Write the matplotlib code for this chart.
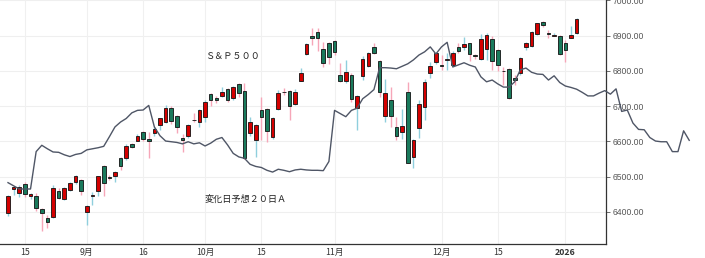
import matplotlib
matplotlib.use("Agg")
import matplotlib.pyplot as plt
import numpy as np

# ---- data (S&P500 daily, 2025-08-12 .. 2026-01-06) ----
opens = [6396, 6465, 6453, 6479, 6446, 6446, 6408, 6382, 6385, 6460,
         6436, 6462, 6484, 6491, 6401, 6446, 6458, 6531, 6500, 6502,
         6552, 6554, 6592, 6602, 6628, 6606, 6625, 6647, 6656, 6694,
         6672, 6609, 6616, 6662, 6656, 6669, 6734, 6724, 6729, 6748,
         6722, 6762, 6743, 6623, 6604, 6689, 6691, 6612, 6691, 6740,
         6743, 6706, 6772, 6847, 6899, 6911, 6861, 6880, 6885, 6789,
         6770, 6789, 6696, 6786, 6815, 6869, 6828, 6672, 6718, 6642,
         6628, 6740, 6557, 6637, 6697, 6795, 6825, 6816, 6832, 6817,
         6869, 6869, 6878, 6844, 6833, 6861, 6890, 6859, 6801, 6805,
         6779, 6793, 6867, 6871, 6905, 6938, 6906, 6900, 6899, 6878,
         6894, 6907]
highs = [6447, 6472, 6476, 6485, 6455, 6453, 6412, 6391, 6476, 6467,
         6472, 6486, 6504, 6494, 6419, 6457, 6503, 6532, 6504, 6516,
         6555, 6593, 6596, 6620, 6630, 6626, 6640, 6667, 6704, 6701,
         6675, 6620, 6650, 6680, 6692, 6716, 6738, 6730, 6754, 6752,
         6758, 6767, 6767, 6670, 6650, 6725, 6694, 6668, 6746, 6752,
         6746, 6750, 6808, 6878, 6921, 6921, 6883, 6882, 6888, 6822,
         6831, 6793, 6731, 6843, 6853, 6878, 6830, 6776, 6755, 6668,
         6691, 6769, 6606, 6718, 6776, 6825, 6852, 6845, 6850, 6856,
         6878, 6897, 6880, 6848, 6905, 6906, 6899, 6861, 6812, 6807,
         6789, 6840, 6882, 6913, 6937, 6942, 6916, 6908, 6901, 6888,
         6926, 6950]
lows = [6389, 6448, 6442, 6442, 6438, 6402, 6347, 6353, 6383, 6436,
        6433, 6460, 6480, 6449, 6363, 6419, 6446, 6446, 6490, 6485,
        6519, 6548, 6582, 6600, 6601, 6552, 6616, 6633, 6653, 6650,
        6625, 6571, 6610, 6655, 6642, 6656, 6699, 6710, 6725, 6712,
        6718, 6726, 6550, 6615, 6557, 6604, 6599, 6606, 6688, 6732,
        6661, 6702, 6770, 6845, 6874, 6855, 6812, 6819, 6845, 6768,
        6765, 6713, 6633, 6774, 6812, 6848, 6727, 6656, 6642, 6604,
        6606, 6538, 6524, 6609, 6662, 6780, 6820, 6802, 6803, 6815,
        6852, 6859, 6829, 6835, 6830, 6831, 6803, 6800, 6760, 6720,
        6760, 6788, 6859, 6868, 6903, 6924, 6893, 6898, 6845, 6826,
        6892, 6905]
closes = [6446, 6470, 6472, 6451, 6450, 6412, 6396, 6370, 6469, 6439,
          6467, 6483, 6502, 6460, 6417, 6448, 6502, 6483, 6496, 6514,
          6531, 6587, 6585, 6616, 6606, 6600, 6635, 6666, 6696, 6658,
          6640, 6605, 6647, 6661, 6689, 6713, 6716, 6718, 6741, 6716,
          6755, 6738, 6554, 6656, 6647, 6670, 6630, 6666, 6738, 6739,
          6701, 6741, 6793, 6876, 6893, 6893, 6823, 6840, 6853, 6772,
          6798, 6721, 6729, 6833, 6850, 6852, 6741, 6737, 6672, 6616,
          6644, 6540, 6604, 6706, 6768, 6815, 6850, 6814, 6833, 6852,
          6857, 6876, 6847, 6842, 6890, 6902, 6829, 6817, 6800, 6722,
          6774, 6836, 6880, 6911, 6935, 6930, 6905, 6902, 6847, 6859,
          6902, 6946]

# 変化日予想２０日Ａ (continues 20 trading days beyond last candle)
forecast = [6483, 6474, 6465, 6465, 6465, 6571, 6589, 6579, 6570, 6569,
            6562, 6557, 6563, 6566, 6576, 6579, 6582, 6586, 6613, 6641,
            6655, 6665, 6681, 6688, 6689, 6702, 6641, 6616, 6601, 6599,
            6597, 6593, 6599, 6593, 6596, 6587, 6595, 6606, 6611, 6590,
            6566, 6556, 6552, 6535, 6529, 6526, 6518, 6513, 6521, 6518,
            6514, 6519, 6521, 6519, 6518, 6518, 6517, 6543, 6688, 6679,
            6670, 6688, 6694, 6721, 6733, 6747, 6809, 6809, 6808, 6806,
            6813, 6820, 6831, 6845, 6854, 6868, 6848, 6868, 6881, 6811,
            6817, 6823, 6816, 6811, 6783, 6769, 6774, 6763, 6754, 6754,
            6769, 6803, 6808, 6796, 6791, 6790, 6774, 6786, 6767, 6757,
            6753, 6748, 6739, 6729, 6729, 6737, 6744, 6734, 6749, 6685,
            6689, 6652, 6634, 6633, 6611, 6601, 6599, 6599, 6571, 6571,
            6630, 6603]

tick_idx = [3, 14, 24, 35, 45, 58, 77, 87, 99]
tick_labels = ["15", "9月", "16", "10月", "15", "11月", "12月", "15", "2026"]
y_ticks = [6400, 6500, 6600, 6700, 6800, 6900, 7000]

title_text = "Ｓ＆Ｐ５００"
line_text = "変化日予想２０日Ａ"

# ---- drawing ----
CJK = ["Noto Sans CJK JP", "DejaVu Sans"]
plt.rcParams["font.family"] = CJK

W, H = 705, 258
fig = plt.figure(figsize=(W / 100, H / 100), dpi=100)
fig.patch.set_facecolor("white")
ax = fig.add_axes([0, 14 / H, 606 / W, 1 - 14 / H])

n = len(opens)
xs = np.arange(n)
o = np.array(opens, float)
c = np.array(closes, float)
hi = np.array(highs, float)
lo = np.array(lows, float)
up = c >= o

RED = "#d40000"
GREEN = "#1a7a5c"
PINK = "#f6a6b8"
BLUE = "#8fcfdd"

wick_cols = [BLUE if u else PINK for u in up]
ax.vlines(xs, lo, hi, colors=wick_cols, linewidth=1.0, zorder=2)
body_bottom = np.minimum(o, c)
body_h = np.abs(c - o)
ax.bar(xs, body_h, bottom=body_bottom, width=0.64,
       color=[RED if u else GREEN for u in up],
       edgecolor="#111111", linewidth=0.6, zorder=3)

fx = np.arange(len(forecast))
ax.plot(fx, forecast, color="#4f5666", linewidth=1.0, zorder=4, clip_on=False)

ax.set_xlim(-8 / 5.63, (606 - 8) / 5.63)
ax.set_ylim(6309, 7001)

# grid
for yv in y_ticks:
    ax.axhline(yv, color="#efefef", linewidth=0.8, zorder=0)
for xv in tick_idx:
    ax.axvline(xv, color="#f0f0f0", linewidth=0.8, zorder=0)

# spines
for s in ["top", "left"]:
    ax.spines[s].set_visible(False)
ax.spines["right"].set_color("#333333")
ax.spines["bottom"].set_color("#333333")
ax.spines["right"].set_linewidth(0.9)
ax.spines["bottom"].set_linewidth(0.9)

ax.yaxis.tick_right()
ax.set_yticks(y_ticks)
ax.set_yticklabels([f"{v:.2f}" for v in y_ticks])
ax.tick_params(axis="y", direction="out", length=3, width=0.6, colors="#555555",
               labelsize=6.2, pad=2)
for lab in ax.get_yticklabels():
    lab.set_fontfamily(["Liberation Sans", "DejaVu Sans"])

ax.set_xticks(tick_idx)
ax.set_xticklabels(tick_labels)
ax.tick_params(axis="x", length=0, labelsize=6.3, colors="#333333", pad=3)
for lab in ax.get_xticklabels():
    if lab.get_text() == "2026":
        lab.set_fontweight("bold")

ax.text(205 / 606, (244 - 56) / 244, title_text, transform=ax.transAxes,
        fontsize=6.6, color="#222222", va="center", ha="left", family=CJK)
ax.text(205 / 606, (244 - 199) / 244, line_text, transform=ax.transAxes,
        fontsize=6.6, color="#222222", va="center", ha="left", family=CJK)

fig.savefig("out.png", dpi=100, facecolor="white")
